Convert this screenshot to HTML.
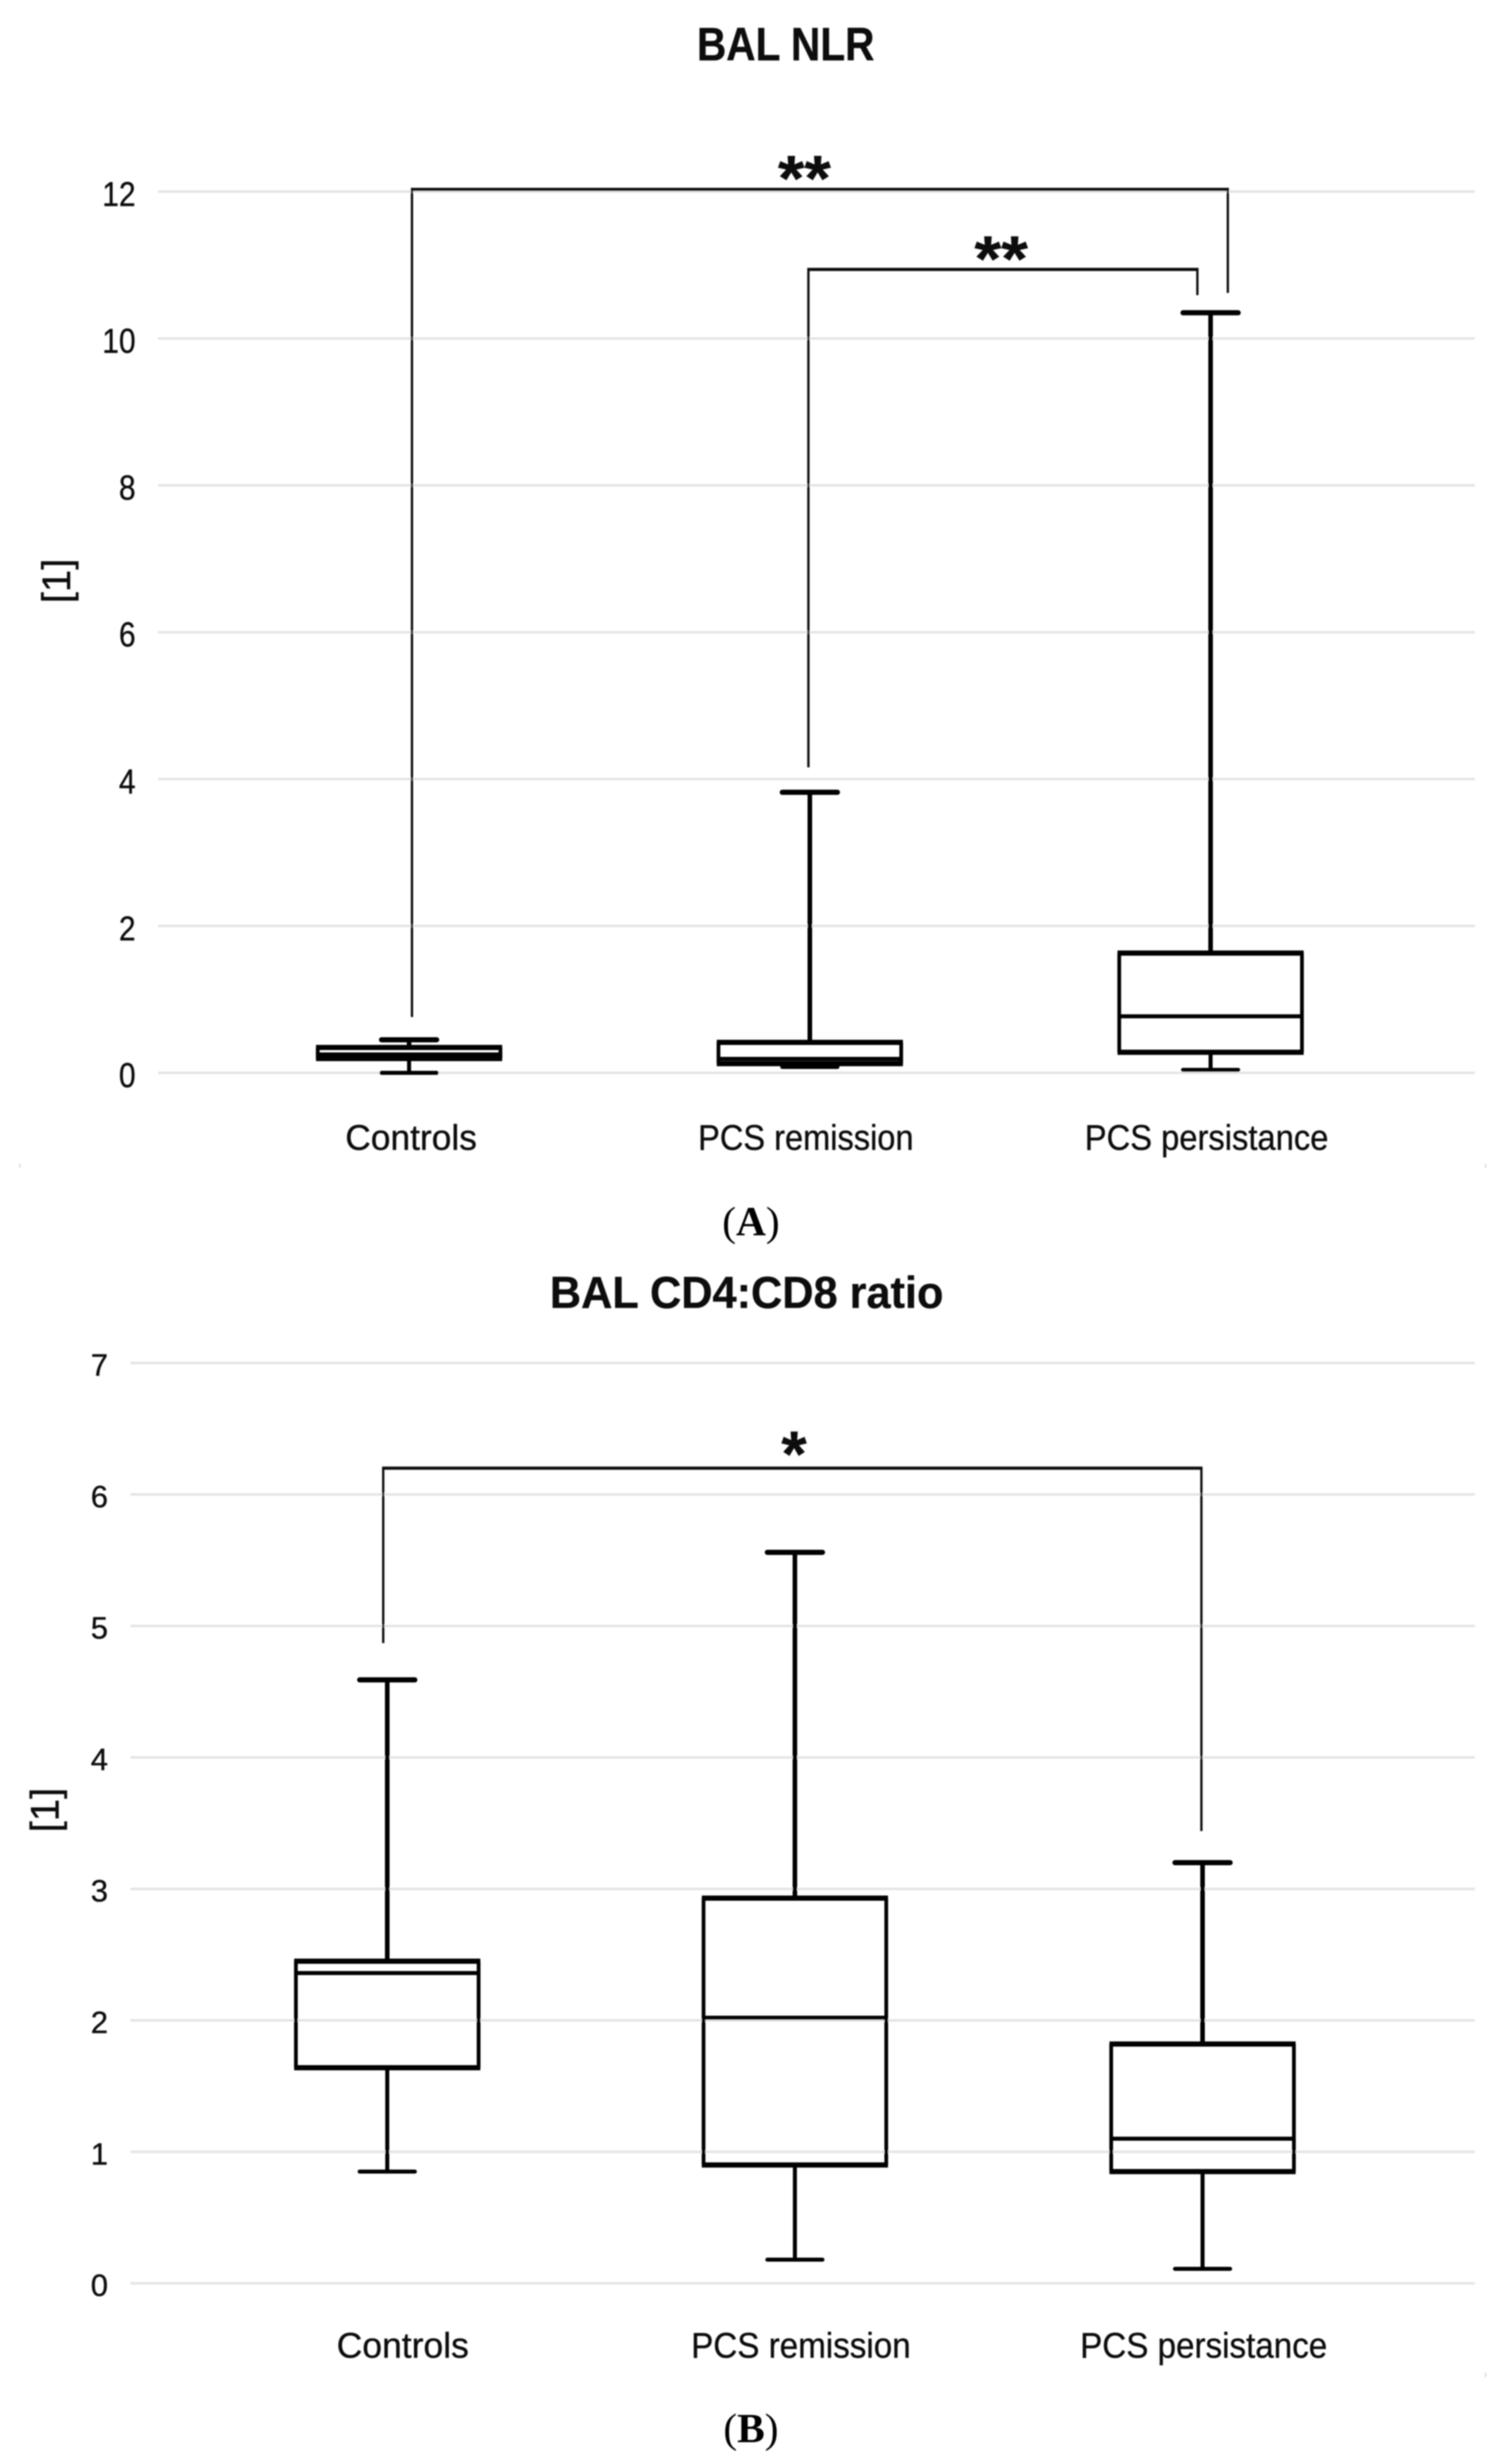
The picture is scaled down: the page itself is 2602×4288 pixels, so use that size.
<!DOCTYPE html>
<html>
<head>
<meta charset="utf-8">
<title>BAL NLR and BAL CD4:CD8 ratio</title>
<style>
html,body{margin:0;padding:0;background:#fff;}
svg{display:block;}
text{font-family:"Liberation Sans",sans-serif;fill:#111;stroke:#111;stroke-width:0.6;}
.serif{font-family:"Liberation Serif",serif;fill:#000;stroke:none;}
</style>
</head>
<body>
<svg id="figure" xmlns="http://www.w3.org/2000/svg" width="2602" height="4288" viewBox="0 0 2602 4288">
<defs><filter id="soft" x="-2%" y="-2%" width="104%" height="104%"><feGaussianBlur stdDeviation="1.1"/></filter></defs>
<rect width="2602" height="4288" fill="#ffffff"/>
<g id="root" filter="url(#soft)"></g>
</svg>
<script>
// Shared categories
const categories = ["Controls", "PCS remission", "PCS persistance"];

// Panel A: BAL NLR values
const nlrTicks = [0, 2, 4, 6, 8, 10, 12];
const nlrHigh = [0.45, 3.82, 10.35];
const nlrQ3 = [0.345, 0.415, 1.63];
const nlrMedian = [0.25, 0.19, 0.77];
const nlrQ1 = [0.195, 0.125, 0.28];
const nlrLow = [0.0, 0.08, 0.04];

// Panel B: BAL CD4:CD8 ratio values
const ratioTicks = [0, 1, 2, 3, 4, 5, 6, 7];
const ratioHigh = [4.59, 5.56, 3.20];
const ratioQ3 = [2.45, 2.93, 1.82];
const ratioMedian = [2.36, 2.02, 1.10];
const ratioQ1 = [1.64, 0.90, 0.85];
const ratioLow = [0.85, 0.18, 0.11];

// Significance brackets: level on the value axis, and where each leg stops on the value axis
const nlrBracketLevels = [12.03, 10.94];
const nlrBracketLeftEnds = [0.76, 4.16];
const nlrBracketRightEnds = [10.62, 10.59];
const ratioBracketLevels = [6.2];
const ratioBracketLeftEnds = [4.87];
const ratioBracketRightEnds = [3.44];

const NS = "http://www.w3.org/2000/svg";
const root = document.getElementById("root");

function add(tag, attrs) {
  const el = document.createElementNS(NS, tag);
  for (const k in attrs) el.setAttribute(k, attrs[k]);
  root.appendChild(el);
  return el;
}

function line(x1, y1, x2, y2, stroke, width, cap) {
  return add("line", { x1: x1, y1: y1, x2: x2, y2: y2, stroke: stroke, "stroke-width": width, "stroke-linecap": cap || "butt" });
}

function fitText(str, left, right, baseline, size, weight, cls) {
  const t = add("text", { x: left, y: baseline, "font-size": size, "font-weight": weight || "normal", textLength: right - left, lengthAdjust: "spacingAndGlyphs" });
  if (cls) t.setAttribute("class", cls);
  t.textContent = str;
  return t;
}

function drawPanel(p) {
  const y = v => p.y0 - v * p.perUnit;
  const x = i => p.x0 + i * p.step;

  // Gridlines and tick labels
  p.ticks.forEach(tick => {
    const g = line(p.gridLeft, y(tick), p.gridRight, y(tick), "#e5e5e5", 4.5);
    
    
    const s = String(tick);
    const right = p.tickRight;
    const left = right - s.length * p.tickDigitWidth;
    const t = fitText(s, left, right, y(tick) + p.tickDrop, p.tickSize);
    
    
  });

  // Boxes and whiskers
  categories.forEach((cat, i) => {
    const cx = x(i);
    const hw = p.boxHalf;
    const capHw = 48;
    const slug = cat.toLowerCase().replace(/\s+/g, '-');

    const stemHigh = line(cx, y(p.high[i]), cx, y(p.q3[i]), "#000", 8);
    
    
    const stemLow = line(cx, y(p.q1[i]), cx, y(p.low[i]), "#000", 7);
    
    

    const capHigh = line(cx - capHw, y(p.high[i]), cx + capHw, y(p.high[i]), "#000", 9, "round");
    
    
    const capLow = line(cx - capHw, y(p.low[i]), cx + capHw, y(p.low[i]), "#000", 7, "round");
    
    

    const side1 = line(cx - hw, y(p.q3[i]), cx - hw, y(p.q1[i]), "#000", 6.5);
    
    
    const side2 = line(cx + hw, y(p.q3[i]), cx + hw, y(p.q1[i]), "#000", 6.5);
    
    
    const top = line(cx - hw - 3, y(p.q3[i]), cx + hw + 3, y(p.q3[i]), "#000", 9);
    
    
    const bottom = line(cx - hw - 3, y(p.q1[i]), cx + hw + 3, y(p.q1[i]), "#000", 9);
    
    
    const med = line(cx - hw, y(p.median[i]), cx + hw, y(p.median[i]), "#000", 7);
    
    

    const lab = p.catLabels[i];
    const label = fitText(cat, lab[0], lab[1], p.catBaseline, 62);
    
    
  });

  // Significance brackets
  p.bracketLevels.forEach((lvl, i) => {
    const b = p.bracketX[i];
    const by = y(lvl);
    const top = line(b[0] - 2, by, b[1] + 2, by, "#111", 5.5);
    
    
    const leftLeg = line(b[0], by, b[0], y(p.bracketLeft[i]), "#111", 4);
    
    
    const rightLeg = line(b[1], by, b[1], y(p.bracketRight[i]), "#111", 4);
    
    
    const st = p.stars[i];
    const star = fitText(st.text, st.left, st.right, st.baseline, 112, "bold");
    
    
  });

  // Title and y-axis title
  const tt = fitText(p.title, p.titleX[0], p.titleX[1], p.titleBaseline, p.titleSize, "bold");
  
  

  const yt = add("text", { x: 0, y: 0, "font-size": 70, "text-anchor": "middle", transform: "translate(" + p.yTitleX + "," + p.yTitleY + ") rotate(-90)" });
  yt.textContent = "[1]";
  
  

  // Panel letter
  const pl = add("text", { x: p.panelX, y: p.panelBaseline, "font-size": 72, "text-anchor": "middle", class: "serif" });
  const open = document.createElementNS(NS, "tspan");
  open.textContent = "(";
  const letter = document.createElementNS(NS, "tspan");
  letter.setAttribute("font-weight", "bold");
  letter.textContent = p.panelLetter;
  const close = document.createElementNS(NS, "tspan");
  close.textContent = ")";
  pl.appendChild(open);
  pl.appendChild(letter);
  pl.appendChild(close);
  
  
}

drawPanel({
  ticks: nlrTicks, high: nlrHigh, q3: nlrQ3, median: nlrMedian, q1: nlrQ1, low: nlrLow,
  y0: 1867, perUnit: 127.8, x0: 712, step: 697.5, boxHalf: 159,
  gridLeft: 275, gridRight: 2567, tickRight: 236, tickDigitWidth: 29, tickDrop: 25, tickSize: 60,
  catLabels: [[601, 830], [1215, 1590], [1888, 2312]], catBaseline: 2001,
  bracketLevels: nlrBracketLevels, bracketLeft: nlrBracketLeftEnds, bracketRight: nlrBracketRightEnds,
  bracketX: [[717, 2137], [1407, 2084]],
  stars: [{ text: "**", left: 1354, right: 1446, baseline: 349 }, { text: "**", left: 1696, right: 1789, baseline: 489 }],
  title: "BAL NLR", titleX: [1213, 1522], titleBaseline: 105, titleSize: 82,
  yTitleX: 122, yTitleY: 1011, panelX: 1307, panelBaseline: 2150, panelLetter: "A"
});

drawPanel({
  ticks: ratioTicks, high: ratioHigh, q3: ratioQ3, median: ratioMedian, q1: ratioQ1, low: ratioLow,
  y0: 3973.6, perUnit: 228.8, x0: 674, step: 709.5, boxHalf: 159,
  gridLeft: 227, gridRight: 2567, tickRight: 188, tickDigitWidth: 30, tickDrop: 22, tickSize: 54,
  catLabels: [[586, 816], [1203, 1585], [1880, 2310]], catBaseline: 4103,
  bracketLevels: ratioBracketLevels, bracketLeft: ratioBracketLeftEnds, bracketRight: ratioBracketRightEnds,
  bracketX: [[667, 2091]],
  stars: [{ text: "*", left: 1360, right: 1404, baseline: 2569 }],
  title: "BAL CD4:CD8 ratio", titleX: [957, 1642], titleBaseline: 2276, titleSize: 78,
  yTitleX: 102, yTitleY: 3150, panelX: 1307, panelBaseline: 4250, panelLetter: "B"
});

[[33, 2029], [2584, 2029], [2584, 4133]].forEach(pt => {
  const speck = add("rect", { x: pt[0], y: pt[1] - 4, width: 3, height: 8, fill: "#e2e2e2" });
  
  
});
</script>
</body>
</html>
